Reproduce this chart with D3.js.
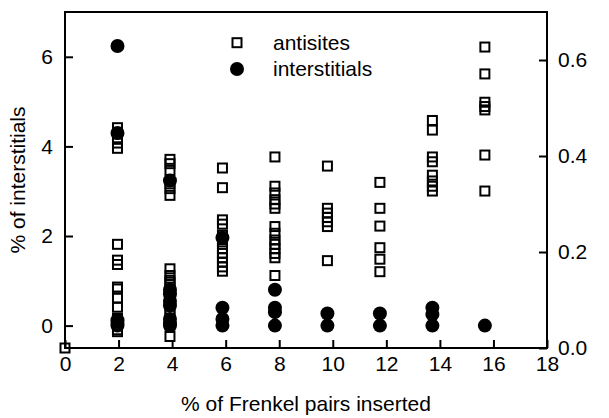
<!DOCTYPE html>
<meta charset="utf-8">
<style>
body { margin: 0; background: #fff; }
svg { display: block; }
text { font-family: "Liberation Sans", Arial, sans-serif; fill: #000; }
.axis path { display: none; }
.axis line { stroke: #000; stroke-width: 2px; }
.axis text { font-size: 21px; }
</style>
<svg width="609" height="418"></svg>
<script src="https://d3js.org/d3.v7.min.js"></script>
<script>
// frenkel pairs inserted (%) for each run
var xVals = [0, 1.96, 3.92, 5.88, 7.84, 9.8, 11.76, 13.72, 15.68];

// antisites (right axis), one list per x value
var antisites = [
  [0.0],
  [0.459, 0.449, 0.438, 0.427, 0.416, 0.216, 0.183, 0.174, 0.127, 0.123, 0.104, 0.085, 0.062, 0.052, 0.038, 0.034],
  [0.393, 0.384, 0.370, 0.342, 0.332, 0.318, 0.165, 0.151, 0.141, 0.137, 0.127, 0.113, 0.099, 0.080, 0.071, 0.057, 0.048, 0.024],
  [0.375, 0.334, 0.267, 0.258, 0.235, 0.221, 0.207, 0.197, 0.188, 0.179, 0.169, 0.160],
  [0.398, 0.337, 0.323, 0.309, 0.300, 0.291, 0.253, 0.239, 0.225, 0.216, 0.207, 0.197, 0.188, 0.151],
  [0.379, 0.291, 0.281, 0.272, 0.263, 0.253, 0.182],
  [0.345, 0.291, 0.254, 0.209, 0.185, 0.159],
  [0.474, 0.454, 0.398, 0.388, 0.360, 0.348, 0.337, 0.327],
  [0.627, 0.571, 0.512, 0.503, 0.496, 0.402, 0.327]
];

// interstitials (left axis), one list per x value
var interstitials = [
  [],
  [6.24, 4.30, 0.12, 0.06, 0.0],
  [3.24, 0.8, 0.7, 0.55, 0.45, 0.15, 0.05, 0.0],
  [1.96, 0.4, 0.15, 0.0],
  [0.8, 0.4, 0.3, 0.0],
  [0.27, 0.0],
  [0.27, 0.0],
  [0.4, 0.25, 0.0],
  [0.0]
];

var xTicks = [0, 2, 4, 6, 8, 10, 12, 14, 16, 18];
var leftTicks = [0, 2, 4, 6];
var rightTicks = [0.0, 0.2, 0.4, 0.6];
var legendLabels = ["antisites", "interstitials"];

var svg = d3.select("svg"),
  margin = {top: 12, right: 62, bottom: 70, left: 65},
  width = svg.attr("width") - margin.left - margin.right,
  height = svg.attr("height") - margin.top - margin.bottom;

var x = d3.scaleLinear().domain([0, 18]).range([0, width]);
var yL = d3.scaleLinear().domain([-0.5, 7]).range([height, 0]);
var yR = d3.scaleLinear().domain([0, 0.7]).range([height, 0]);

var g = svg.append("g")
  .attr("transform", "translate(" + margin.left + "," + margin.top + ")");

// flatten the per-column lists into points
var squares = [], dots = [];
xVals.forEach(function(xv, i) {
  antisites[i].forEach(function(v) { squares.push({x: xv, y: v}); });
  interstitials[i].forEach(function(v) { dots.push({x: xv, y: v}); });
});

g.append("g")
  .attr("class", "axis")
  .attr("transform", "translate(0," + height + ")")
  .call(d3.axisBottom(x).tickValues(xTicks).tickSize(-8).tickSizeOuter(0).tickPadding(8));

g.append("g")
  .attr("class", "axis")
  .call(d3.axisLeft(yL).tickValues(leftTicks).tickSize(-8).tickSizeOuter(0).tickPadding(12));

g.append("g")
  .attr("class", "axis")
  .attr("transform", "translate(" + width + ",0)")
  .call(d3.axisRight(yR).tickValues(rightTicks).tickSize(-8).tickSizeOuter(0).tickPadding(11)
    .tickFormat(d3.format(".1f")));

g.append("rect")
  .attr("width", width)
  .attr("height", height)
  .attr("fill", "none")
  .attr("stroke", "#000")
  .attr("stroke-width", 2);

var sq = 9;
g.append("g").selectAll("rect").data(squares).enter().append("rect")
  .attr("x", function(d) { return x(d.x) - sq / 2; })
  .attr("y", function(d) { return yR(d.y) - sq / 2; })
  .attr("width", sq)
  .attr("height", sq)
  .attr("fill", "none")
  .attr("stroke", "#000")
  .attr("stroke-width", 2);

g.append("g").selectAll("circle").data(dots).enter().append("circle")
  .attr("cx", function(d) { return x(d.x); })
  .attr("cy", function(d) { return yL(d.y); })
  .attr("r", 7)
  .attr("fill", "#000");

// legend
var leg = svg.append("g").attr("transform", "translate(237,0)");
leg.append("rect")
  .attr("x", -sq / 2).attr("y", 42.7 - sq / 2)
  .attr("width", sq).attr("height", sq)
  .attr("fill", "none").attr("stroke", "#000").attr("stroke-width", 2);
leg.append("circle").attr("cy", 69).attr("r", 7).attr("fill", "#000");
leg.selectAll("text").data(legendLabels).enter().append("text")
  .attr("x", 36)
  .attr("y", function(d, i) { return i ? 76 : 50; })
  .style("font-size", "21px")
  .text(function(d) { return d; });

svg.append("text")
  .attr("x", margin.left + width / 2)
  .attr("y", 411)
  .attr("text-anchor", "middle")
  .style("font-size", "21px")
  .text("% of Frenkel pairs inserted");

svg.append("text")
  .attr("transform", "translate(25," + (margin.top + height / 2) + ") rotate(-90)")
  .attr("text-anchor", "middle")
  .style("font-size", "21px")
  .text("% of interstitials");
</script>
